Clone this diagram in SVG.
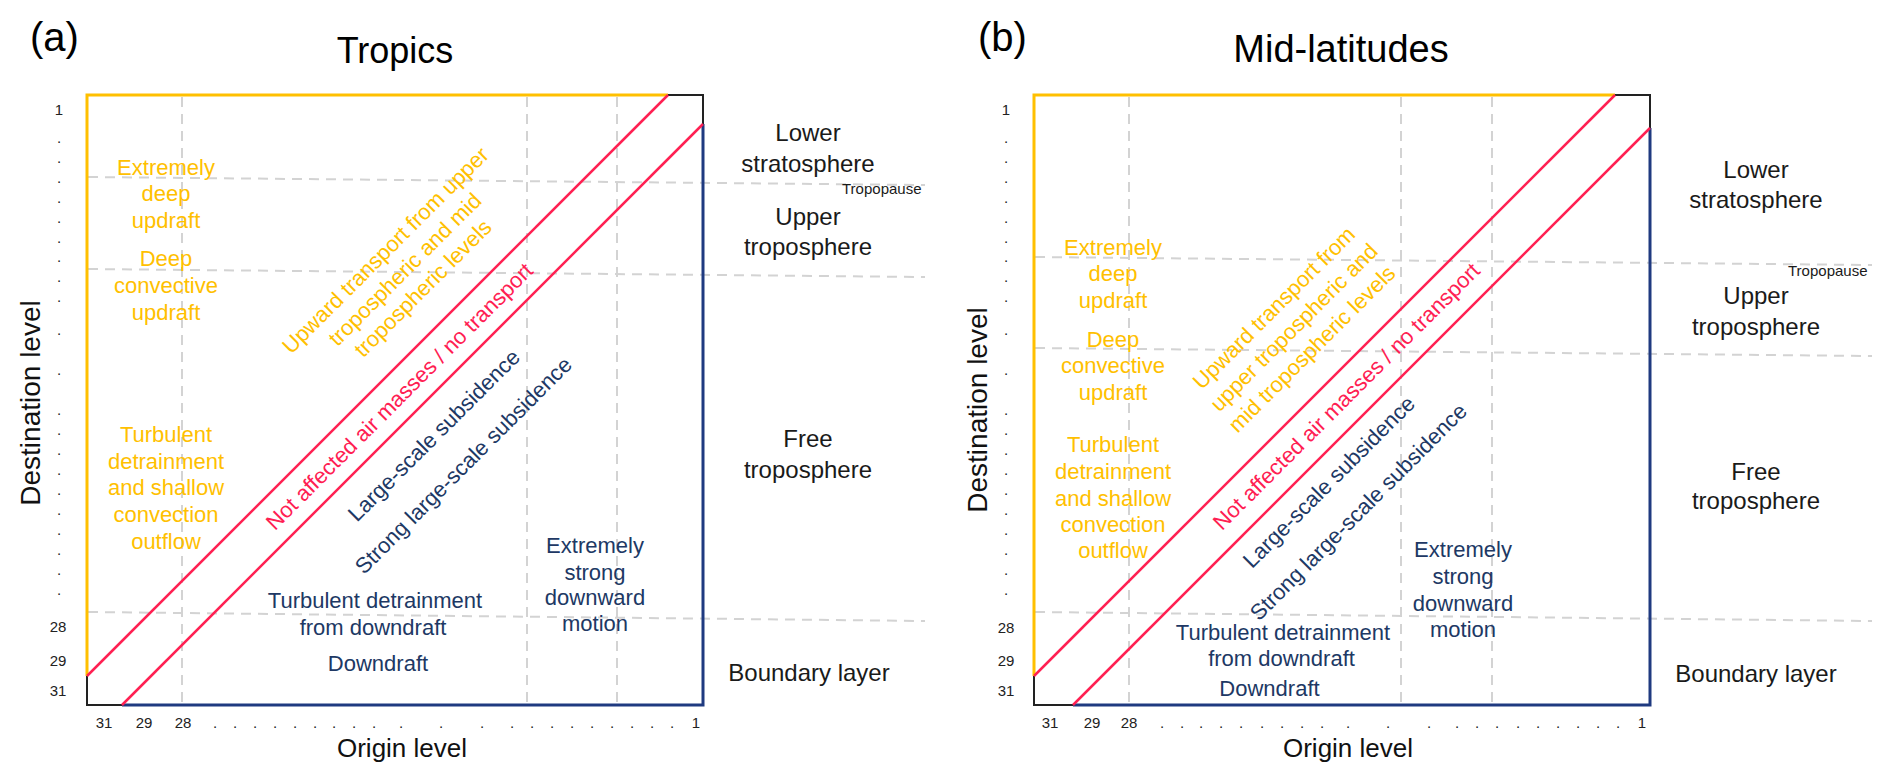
<svg xmlns="http://www.w3.org/2000/svg" width="1892" height="782" viewBox="0 0 1892 782">
<style>
text{font-family:"Liberation Sans",Arial,sans-serif;}
.bg{fill:#ffffff}
.dash{stroke:#d3d3d3;stroke-width:2;stroke-dasharray:10 7;fill:none}
.yel{stroke:#FFC000;stroke-width:3;fill:none}
.blk{stroke:#222222;stroke-width:2;fill:none}
.nav{stroke:#1F3A80;stroke-width:3;fill:none}
.red{stroke:#FF2052;stroke-width:2.5;fill:none}
.panel{font-size:40px;fill:#000}
.title{font-size:36px;fill:#000;text-anchor:middle}
.axis{font-size:26px;fill:#111;text-anchor:middle}
.tick{font-size:15px;fill:#222;text-anchor:middle}
.ty{font-size:22px;fill:#FFC000;text-anchor:middle}
.tn{font-size:22px;fill:#203864;text-anchor:middle}
.tr{font-size:22px;fill:#FF2052;text-anchor:middle}
.lay{font-size:24px;fill:#1a1a1a;text-anchor:middle}
.tp{font-size:15px;fill:#1a1a1a}
</style>
<rect class="bg" x="0" y="0" width="1892" height="782"/>

<!-- ================= PANEL A ================= -->
<g id="panel-a">
  <text class="panel" x="30" y="51">(a)</text>
  <text class="title" x="395" y="63">Tropics</text>

  <g id="a-grid">
    <line class="dash" x1="182" y1="97" x2="182" y2="704"/>
    <line class="dash" x1="527" y1="97" x2="527" y2="704"/>
    <line class="dash" x1="617" y1="97" x2="617" y2="704"/>
    <line class="dash" x1="88" y1="177" x2="925" y2="185"/>
    <line class="dash" x1="88" y1="269" x2="925" y2="277"/>
    <line class="dash" x1="88" y1="612" x2="925" y2="621"/>
  </g>

  <g id="a-frame">
    <path class="yel" d="M87 676 V95 H668"/>
    <path class="blk" d="M668 95 H703 V124"/>
    <path class="blk" d="M87 676 V705 H122"/>
    <path class="nav" d="M122 705 H703 V124"/>
  </g>

  <g id="a-connectors">
    <line class="red" x1="87" y1="676" x2="668" y2="95"/>
    <line class="red" x1="122" y1="705" x2="703" y2="124"/>
  </g>

  <g id="a-yaxis">
    <text class="axis" transform="translate(40 403) rotate(-90)" font-size="28" style="font-size:28px">Destination level</text>
    <text class="tick" x="59" y="115">1</text>
    <text class="tick" x="59" y="143">.</text>
    <text class="tick" x="59" y="163">.</text>
    <text class="tick" x="59" y="183">.</text>
    <text class="tick" x="59" y="203">.</text>
    <text class="tick" x="59" y="223">.</text>
    <text class="tick" x="59" y="243">.</text>
    <text class="tick" x="59" y="262">.</text>
    <text class="tick" x="59" y="282">.</text>
    <text class="tick" x="59" y="302">.</text>
    <text class="tick" x="59" y="335">.</text>
    <text class="tick" x="59" y="375">.</text>
    <text class="tick" x="59" y="415">.</text>
    <text class="tick" x="59" y="435">.</text>
    <text class="tick" x="59" y="455">.</text>
    <text class="tick" x="59" y="475">.</text>
    <text class="tick" x="59" y="495">.</text>
    <text class="tick" x="59" y="515">.</text>
    <text class="tick" x="59" y="535">.</text>
    <text class="tick" x="59" y="555">.</text>
    <text class="tick" x="59" y="575">.</text>
    <text class="tick" x="59" y="595">.</text>
    <text class="tick" x="58" y="632">28</text>
    <text class="tick" x="58" y="666">29</text>
    <text class="tick" x="58" y="696">31</text>
  </g>

  <g id="a-xaxis">
    <text class="tick" x="104" y="728">31</text>
    <text class="tick" x="144" y="728">29</text>
    <text class="tick" x="183" y="728">28</text>
    <text class="tick" x="215" y="728">.</text>
    <text class="tick" x="235" y="728">.</text>
    <text class="tick" x="255" y="728">.</text>
    <text class="tick" x="275" y="728">.</text>
    <text class="tick" x="295" y="728">.</text>
    <text class="tick" x="315" y="728">.</text>
    <text class="tick" x="334" y="728">.</text>
    <text class="tick" x="354" y="728">.</text>
    <text class="tick" x="374" y="728">.</text>
    <text class="tick" x="401" y="728">.</text>
    <text class="tick" x="441" y="728">.</text>
    <text class="tick" x="482" y="728">.</text>
    <text class="tick" x="512" y="728">.</text>
    <text class="tick" x="532" y="728">.</text>
    <text class="tick" x="552" y="728">.</text>
    <text class="tick" x="572" y="728">.</text>
    <text class="tick" x="592" y="728">.</text>
    <text class="tick" x="612" y="728">.</text>
    <text class="tick" x="632" y="728">.</text>
    <text class="tick" x="652" y="728">.</text>
    <text class="tick" x="672" y="728">.</text>
    <text class="tick" x="696" y="728">1</text>
    <text class="axis" x="402" y="757">Origin level</text>
  </g>

  <g id="a-yellow-labels">
    <text class="ty" x="166" y="175">Extremely</text>
    <text class="ty" x="166" y="201">deep</text>
    <text class="ty" x="166" y="228">updraft</text>
    <text class="ty" x="166" y="266">Deep</text>
    <text class="ty" x="166" y="293">convective</text>
    <text class="ty" x="166" y="320">updraft</text>
    <text class="ty" x="166" y="442">Turbulent</text>
    <text class="ty" x="166" y="469">detrainment</text>
    <text class="ty" x="166" y="495">and shallow</text>
    <text class="ty" x="166" y="522">convection</text>
    <text class="ty" x="166" y="549">outflow</text>
  </g>

  <g id="a-diagonal-labels">
    <text class="ty" transform="translate(385 250) rotate(-45)" dy="8">Upward transport from upper</text>
    <text class="ty" transform="translate(404.5 269) rotate(-45)" dy="8">tropospheric and mid</text>
    <text class="ty" transform="translate(422.5 288) rotate(-45)" dy="8">tropospheric levels</text>
    <text class="tr" transform="translate(399 396) rotate(-45)" dy="8">Not affected air masses / no transport</text>
    <text class="tn" transform="translate(433.5 435) rotate(-45)" dy="8">Large-scale subsidence</text>
    <text class="tn" transform="translate(463 465) rotate(-45)" dy="8">Strong large-scale subsidence</text>
  </g>

  <g id="a-navy-labels">
    <text class="tn" x="375" y="608">Turbulent detrainment</text>
    <text class="tn" x="373" y="635">from downdraft</text>
    <text class="tn" x="378" y="671">Downdraft</text>
    <text class="tn" x="595" y="553">Extremely</text>
    <text class="tn" x="595" y="580">strong</text>
    <text class="tn" x="595" y="605">downward</text>
    <text class="tn" x="595" y="631">motion</text>
  </g>

  <g id="a-layers">
    <text class="lay" x="808" y="141">Lower</text>
    <text class="lay" x="808" y="172">stratosphere</text>
    <text class="tp" x="842" y="194">Tropopause</text>
    <text class="lay" x="808" y="225">Upper</text>
    <text class="lay" x="808" y="255">troposphere</text>
    <text class="lay" x="808" y="447">Free</text>
    <text class="lay" x="808" y="478">troposphere</text>
    <text class="lay" x="809" y="681">Boundary layer</text>
  </g>
</g>

<!-- ================= PANEL B ================= -->
<g id="panel-b">
  <text class="panel" x="978" y="51">(b)</text>
  <text class="title" x="1341" y="62" style="font-size:38px">Mid-latitudes</text>

  <g id="b-grid">
    <line class="dash" x1="1129" y1="97" x2="1129" y2="704"/>
    <line class="dash" x1="1401" y1="97" x2="1401" y2="704"/>
    <line class="dash" x1="1492" y1="97" x2="1492" y2="704"/>
    <line class="dash" x1="1035" y1="257" x2="1872" y2="265"/>
    <line class="dash" x1="1035" y1="348" x2="1872" y2="356"/>
    <line class="dash" x1="1035" y1="612" x2="1872" y2="621"/>
  </g>

  <g id="b-frame">
    <path class="yel" d="M1034 676 V95 H1615"/>
    <path class="blk" d="M1615 95 H1650 V128"/>
    <path class="blk" d="M1034 676 V705 H1073"/>
    <path class="nav" d="M1073 705 H1650 V128"/>
  </g>

  <g id="b-connectors">
    <line class="red" x1="1034" y1="676" x2="1615" y2="95"/>
    <line class="red" x1="1073" y1="705" x2="1650" y2="128"/>
  </g>

  <g id="b-yaxis">
    <text class="axis" transform="translate(987 410) rotate(-90)" style="font-size:28px">Destination level</text>
    <text class="tick" x="1006" y="115">1</text>
    <text class="tick" x="1006" y="143">.</text>
    <text class="tick" x="1006" y="163">.</text>
    <text class="tick" x="1006" y="183">.</text>
    <text class="tick" x="1006" y="203">.</text>
    <text class="tick" x="1006" y="223">.</text>
    <text class="tick" x="1006" y="243">.</text>
    <text class="tick" x="1006" y="262">.</text>
    <text class="tick" x="1006" y="282">.</text>
    <text class="tick" x="1006" y="302">.</text>
    <text class="tick" x="1006" y="335">.</text>
    <text class="tick" x="1006" y="375">.</text>
    <text class="tick" x="1006" y="415">.</text>
    <text class="tick" x="1006" y="435">.</text>
    <text class="tick" x="1006" y="455">.</text>
    <text class="tick" x="1006" y="475">.</text>
    <text class="tick" x="1006" y="495">.</text>
    <text class="tick" x="1006" y="515">.</text>
    <text class="tick" x="1006" y="535">.</text>
    <text class="tick" x="1006" y="555">.</text>
    <text class="tick" x="1006" y="575">.</text>
    <text class="tick" x="1006" y="595">.</text>
    <text class="tick" x="1006" y="633">28</text>
    <text class="tick" x="1006" y="666">29</text>
    <text class="tick" x="1006" y="696">31</text>
  </g>

  <g id="b-xaxis">
    <text class="tick" x="1050" y="728">31</text>
    <text class="tick" x="1092" y="728">29</text>
    <text class="tick" x="1129" y="728">28</text>
    <text class="tick" x="1162" y="728">.</text>
    <text class="tick" x="1182" y="728">.</text>
    <text class="tick" x="1201" y="728">.</text>
    <text class="tick" x="1221" y="728">.</text>
    <text class="tick" x="1241" y="728">.</text>
    <text class="tick" x="1262" y="728">.</text>
    <text class="tick" x="1282" y="728">.</text>
    <text class="tick" x="1302" y="728">.</text>
    <text class="tick" x="1322" y="728">.</text>
    <text class="tick" x="1348" y="728">.</text>
    <text class="tick" x="1388" y="728">.</text>
    <text class="tick" x="1429" y="728">.</text>
    <text class="tick" x="1457" y="728">.</text>
    <text class="tick" x="1477" y="728">.</text>
    <text class="tick" x="1497" y="728">.</text>
    <text class="tick" x="1518" y="728">.</text>
    <text class="tick" x="1538" y="728">.</text>
    <text class="tick" x="1558" y="728">.</text>
    <text class="tick" x="1578" y="728">.</text>
    <text class="tick" x="1598" y="728">.</text>
    <text class="tick" x="1618" y="728">.</text>
    <text class="tick" x="1642" y="728">1</text>
    <text class="axis" x="1348" y="757">Origin level</text>
  </g>

  <g id="b-yellow-labels">
    <text class="ty" x="1113" y="255">Extremely</text>
    <text class="ty" x="1113" y="281">deep</text>
    <text class="ty" x="1113" y="308">updraft</text>
    <text class="ty" x="1113" y="347">Deep</text>
    <text class="ty" x="1113" y="373">convective</text>
    <text class="ty" x="1113" y="400">updraft</text>
    <text class="ty" x="1113" y="452">Turbulent</text>
    <text class="ty" x="1113" y="479">detrainment</text>
    <text class="ty" x="1113" y="506">and shallow</text>
    <text class="ty" x="1113" y="532">convection</text>
    <text class="ty" x="1113" y="558">outflow</text>
  </g>

  <g id="b-diagonal-labels">
    <text class="ty" transform="translate(1273.5 307.5) rotate(-45)" dy="8">Upward transport from</text>
    <text class="ty" transform="translate(1293.5 327) rotate(-45)" dy="8">upper tropospheric and</text>
    <text class="ty" transform="translate(1311.5 348.5) rotate(-45)" dy="8">mid tropospheric levels</text>
    <text class="tr" transform="translate(1346 396) rotate(-45)" dy="8">Not affected air masses / no transport</text>
    <text class="tn" transform="translate(1328.5 481.5) rotate(-45)" dy="8">Large-scale subsidence</text>
    <text class="tn" transform="translate(1358 511.5) rotate(-45)" dy="8">Strong large-scale subsidence</text>
  </g>

  <g id="b-navy-labels">
    <text class="tn" x="1283" y="640">Turbulent detrainment</text>
    <text class="tn" x="1281.5" y="666">from downdraft</text>
    <text class="tn" x="1269.5" y="696">Downdraft</text>
    <text class="tn" x="1463" y="557">Extremely</text>
    <text class="tn" x="1463" y="584">strong</text>
    <text class="tn" x="1463" y="611">downward</text>
    <text class="tn" x="1463" y="637">motion</text>
  </g>

  <g id="b-layers">
    <text class="lay" x="1756" y="178">Lower</text>
    <text class="lay" x="1756" y="208">stratosphere</text>
    <text class="tp" x="1788" y="276">Tropopause</text>
    <text class="lay" x="1756" y="304">Upper</text>
    <text class="lay" x="1756" y="335">troposphere</text>
    <text class="lay" x="1756" y="480">Free</text>
    <text class="lay" x="1756" y="509">troposphere</text>
    <text class="lay" x="1756" y="682">Boundary layer</text>
  </g>
</g>
</svg>
